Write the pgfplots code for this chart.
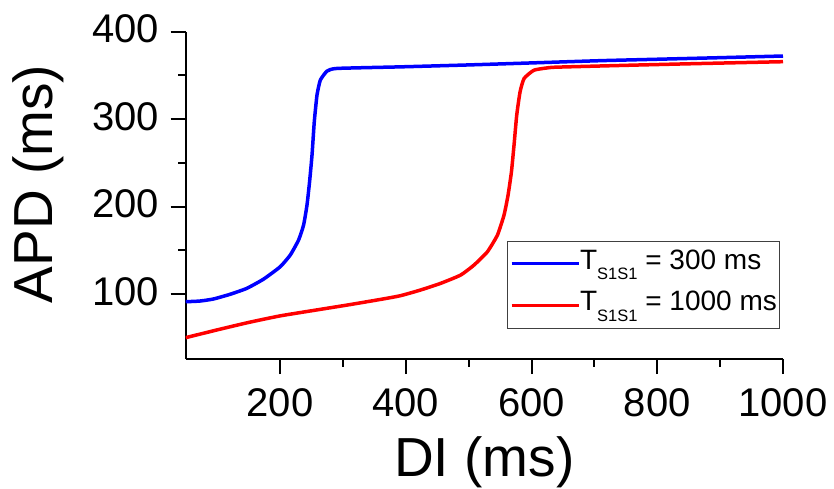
\documentclass[border=0pt]{standalone}
\usepackage{fontspec}
\setmainfont{Liberation Sans}
\usepackage{pgfplots}
\pgfplotsset{compat=1.18}
\definecolor{cblue}{RGB}{0,0,255}
\definecolor{cred}{RGB}{255,0,0}
\newcommand{\sub}[1]{\raisebox{-10.7pt}{\fontsize{16.5}{16.5}\selectfont #1}}
\begin{document}
\begin{tikzpicture}
\begin{axis}[
  name=ax,
  scale only axis,
  width=597.3pt, height=327.3pt,
  xmin=50, xmax=1000, ymin=25.7, ymax=400,
  axis x line*=bottom, axis y line*=left,
  axis line style={line width=2pt, -},
  xtick={200,400,600,800,1000},
  ytick={100,200,300,400},
  minor x tick num=1, minor y tick num=1,
  tick align=outside,
  major tick length=15pt, minor tick length=7.5pt,
  every tick/.style={black, line width=2pt},
  tick label style={font=\fontsize{40}{40}\selectfont, inner sep=0pt},
  xticklabel={\pgfmathprintnumber[assume math mode=true,1000 sep={}]{\tick}},
  yticklabel={\pgfmathprintnumber[assume math mode=true,1000 sep={}]{\tick}},
  xticklabel style={anchor=base, yshift=-42pt},
  yticklabel style={anchor=base east, xshift=-11.7pt, yshift=-11.3pt},
  every axis x label/.style={at={(axis description cs:0.5,0)}, anchor=base, yshift=-117pt, font=\fontsize{55}{55}\selectfont},
  every axis y label/.style={at={(axis description cs:-0.2222,0.535)}, anchor=base, rotate=90, font=\fontsize{55}{55}\selectfont},
  xlabel={DI (ms)},
  ylabel={APD (ms)},
  legend style={at={(axis description cs:1,0)}, anchor=south east, xshift=-3pt, yshift=29.7pt,
    draw=black!75, line width=1.2pt, font=\fontsize{28}{28}\selectfont,
    inner xsep=2.5pt, inner ysep=7.35pt, row sep=10.9pt,
    nodes={inner sep=0pt, anchor=base west, text height=20pt, text depth=10.7pt},
    /tikz/every even column/.append style={column sep=7.7pt}},
  legend cell align=left,
  legend image code/.code={\draw[#1, line width=3pt] (0pt,5.3pt) -- (67pt,5.3pt);},
]
\addplot[cblue, line width=3.5pt, smooth, tension=0.3] coordinates {
(50,91.2) (72.8,92) (94,94.3) (120.6,99.7) (147.2,106.5) (173.7,117)
(200.3,131.2) (216.3,144.6) (229.5,161.7) (237.5,178.9) (242.9,201.7)
(247,228.3) (250.9,258.9) (254.5,296.9) (258.8,327.4) (264.1,344.6)
(274.8,354.9) (290.7,358) (392,359.8) (500,362) (600,364.3) (711,366.9)
(800,368.5) (900,370.3) (1000,372.2)
};
\addlegendentry{T\sub{S1S1} = 300 ms}
\addplot[cred, line width=3.5pt, smooth, tension=0.3] coordinates {
(50,50.1) (100,59) (150,67.5) (200,75) (260,82) (312,88) (365,94.5)
(391.6,98.1) (423.5,104.6) (455.4,112.2) (487.3,121.7)
(508.5,133.1) (529.8,148.3) (545.8,167.4) (556.3,190.3) (562.7,213.1)
(568.1,239.8) (572.2,270.3) (576.5,304.6) (581.8,331.2) (588.2,346.5)
(604.1,356) (630.7,359.1) (657.4,359.8) (758.3,361.7) (850,363.3) (1000,365.7)
};
\addlegendentry{T\sub{S1S1} = 1000 ms}
\end{axis}
\pgfresetboundingbox
\path[use as bounding box] ([shift={(-185.7pt,-129pt)}]ax.south west) rectangle ([shift={(51pt,31.7pt)}]ax.north east);
\end{tikzpicture}
\end{document}
